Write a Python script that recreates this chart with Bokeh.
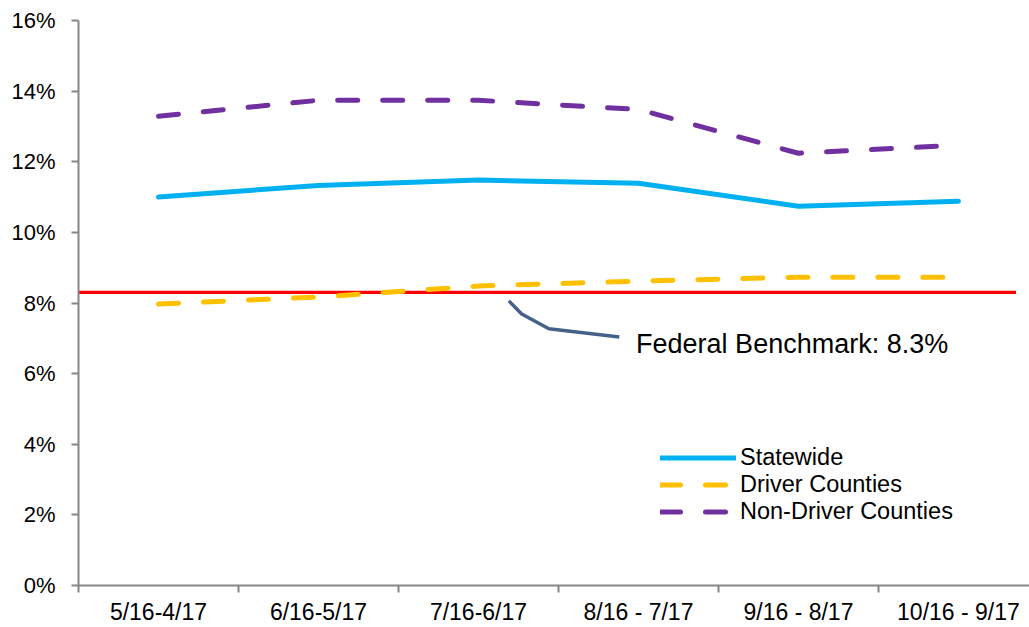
from bokeh.plotting import figure
from bokeh.models import FixedTicker, Legend, LegendItem, Range1d, Label
from bokeh.embed import file_html
from bokeh.resources import INLINE

categories = ["5/16-4/17", "6/16-5/17", "7/16-6/17", "8/16 - 7/17", "9/16 - 8/17", "10/16 - 9/17"]
statewide = [11.00, 11.33, 11.48, 11.39, 10.74, 10.88]
driver = [7.97, 8.17, 8.48, 8.62, 8.73, 8.73]
non_driver = [13.29, 13.74, 13.74, 13.48, 12.24, 12.47]
benchmark = 8.3
benchmark_span = [-0.5, 5.36]
callout_x = [2.19, 2.27, 2.44, 2.88]
callout_y = [8.06, 7.69, 7.27, 7.04]
callout_text = "Federal Benchmark: 8.3%"
y_ticks = [0, 2, 4, 6, 8, 10, 12, 14, 16]

xs = list(range(len(categories)))
bounds = [i - 0.5 for i in range(len(categories) + 1)]

p = figure(width=1029, height=627, output_backend="svg", toolbar_location=None,
           x_range=Range1d(-0.5, 5.444), y_range=Range1d(0, 16),
           min_border_left=78, min_border_right=0, min_border_top=20, min_border_bottom=41)
p.outline_line_color = None
p.xgrid.visible = False
p.ygrid.visible = False
p.background_fill_color = "white"

font = "Liberation Sans"

p.line(benchmark_span, [benchmark, benchmark], line_color="#FF0000", line_width=3.3)
r_state = p.line(xs, statewide, line_color="#00B0F0", line_width=5, line_join="round", line_cap="round")
r_driver = p.line(xs, driver, line_color="#FFC000", line_width=5, line_dash="20 25", line_cap="round")
r_non = p.line(xs, non_driver, line_color="#7030A0", line_width=5, line_dash="20 25", line_cap="round")
p.line(callout_x, callout_y, line_color="#44618A", line_width=3.5, line_join="round")
p.add_layout(Label(x=callout_x[-1] + 0.105, y=callout_y[-1] - 0.2, text=callout_text,
                   text_font=font, text_font_size="27px", text_color="#000000",
                   text_baseline="middle"))

# axes
p.xaxis.ticker = FixedTicker(ticks=xs, minor_ticks=bounds)
p.xaxis.major_label_overrides = {i: c for i, c in enumerate(categories)}
p.xaxis.major_tick_line_color = None
p.xaxis.major_tick_out = 0
p.xaxis.minor_tick_out = 7
p.xaxis.minor_tick_in = 0
p.xaxis.minor_tick_line_color = "#868686"
p.xaxis.minor_tick_line_width = 2
p.xaxis.axis_line_color = "#868686"
p.xaxis.axis_line_width = 2
p.xaxis.major_label_standoff = 6
p.xaxis.major_label_text_font = font
p.xaxis.major_label_text_font_size = "23px"
p.xaxis.major_label_text_color = "#000000"

p.yaxis.ticker = FixedTicker(ticks=y_ticks, minor_ticks=[])
p.yaxis.major_label_overrides = {t: f"{t}%" for t in y_ticks}
p.yaxis.major_tick_out = 7
p.yaxis.major_tick_in = 0
p.yaxis.major_tick_line_color = "#868686"
p.yaxis.major_tick_line_width = 2
p.yaxis.axis_line_color = "#868686"
p.yaxis.axis_line_width = 2
p.yaxis.major_label_standoff = 16
p.yaxis.major_label_text_font = font
p.yaxis.major_label_text_font_size = "22px"
p.yaxis.major_label_text_color = "#000000"

legend = Legend(items=[LegendItem(label="Statewide", renderers=[r_state]),
                       LegendItem(label="Driver Counties", renderers=[r_driver]),
                       LegendItem(label="Non-Driver Counties", renderers=[r_non])],
                location=(582, 60), orientation="vertical")
legend.padding = 0
legend.margin = 0
legend.spacing = -3
legend.glyph_width = 76
legend.glyph_height = 25
legend.label_height = 25
legend.label_standoff = 4
legend.label_text_font = font
legend.label_text_font_size = "23.5px"
legend.label_text_color = "#000000"
legend.border_line_color = None
legend.background_fill_alpha = 0
p.add_layout(legend)

open("out.html", "w").write(file_html(p, INLINE))
